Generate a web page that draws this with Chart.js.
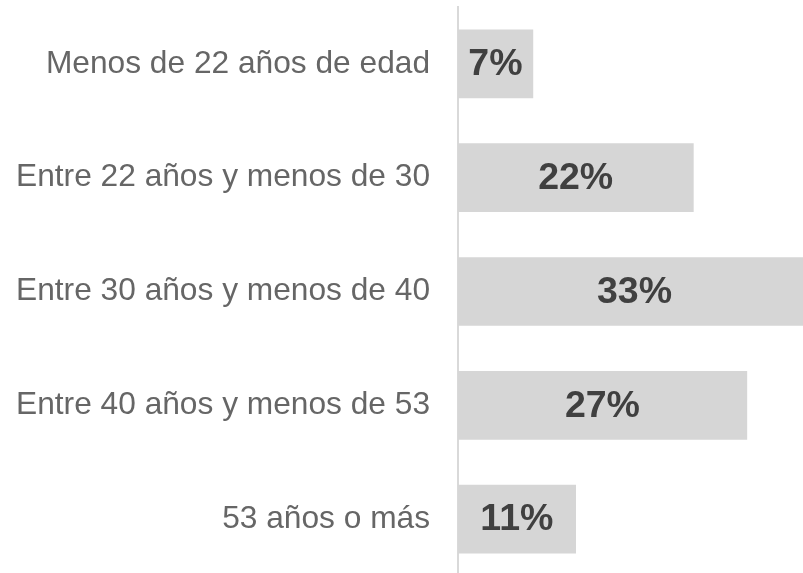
<!DOCTYPE html>
<html>
<head>
<meta charset="utf-8">
<script src="https://cdn.jsdelivr.net/npm/chart.js@4/dist/chart.umd.min.js"></script>
<style>
  html, body { margin: 0; padding: 0; background: #fff; overflow: hidden; }
</style>
</head>
<body>
<canvas id="ageChart" width="803" height="576"></canvas>
<script>
// ── DATA ──
const categories = [
  'Menos de 22 años de edad',
  'Entre 22 años y menos de 30',
  'Entre 30 años y menos de 40',
  'Entre 40 años y menos de 53',
  '53 años o más'
];
const shares = [7, 22, 33, 27, 11];
const valueLabels = ['7%', '22%', '33%', '27%', '11%'];

const FONT = '"Liberation Sans", Arial, sans-serif';

// value labels centred on each bar (even when the bar runs past the edge)
const barLabels = {
  id: 'barLabels',
  afterDatasetsDraw(chart) {
    const ctx = chart.ctx;
    const meta = chart.getDatasetMeta(0);
    ctx.save();
    ctx.font = 'bold 37.5px ' + FONT;
    ctx.fillStyle = '#404040';
    ctx.textAlign = 'center';
    ctx.textBaseline = 'middle';
    meta.data.forEach((bar, i) => {
      const cx = (bar.x + bar.base) / 2;
      ctx.fillText(valueLabels[i], cx, bar.y + 1);
    });
    ctx.restore();
  }
};

new Chart(document.getElementById('ageChart'), {
  type: 'bar',
  data: {
    labels: categories,
    datasets: [{
      data: shares,
      backgroundColor: '#d6d6d6',
      borderWidth: 0,
      barThickness: 68
    }]
  },
  options: {
    indexAxis: 'y',
    responsive: false,
    animation: false,
    layout: { padding: { top: 7, right: 0, bottom: 0, left: 0 } },
    plugins: {
      legend: { display: false },
      tooltip: { enabled: false }
    },
    scales: {
      x: {
        display: false,
        min: 0,
        max: 32.25
      },
      y: {
        afterFit(scale) {
          // fixed axis position, no extra room for label overhang
          scale.width = 458;
          scale.paddingTop = 0;
          scale.paddingBottom = 0;
        },
        grid: { display: false, drawTicks: false },
        border: { display: true, color: '#d9d9d9', width: 2 },
        ticks: {
          padding: 28,
          color: '#666666',
          font: { family: FONT, size: 31.7 }
        }
      }
    }
  },
  plugins: [barLabels]
});
</script>
</body>
</html>
